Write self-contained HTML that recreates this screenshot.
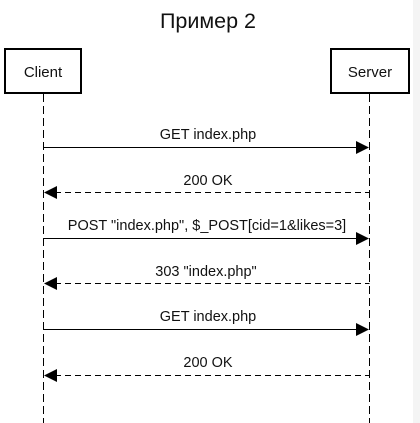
<!DOCTYPE html>
<html><head><meta charset="utf-8"><style>
html,body{margin:0;padding:0;background:#fff;}
svg{display:block;font-family:"Liberation Sans",Arial,sans-serif;}
</style></head><body>
<svg width="420" height="423" viewBox="0 0 420 423" xmlns="http://www.w3.org/2000/svg">
<rect x="0" y="0" width="420" height="423" fill="#fff"/>
<rect x="413" y="0" width="7" height="423" fill="#f4f4f4"/>
<text x="208" y="28" font-size="21.5" text-anchor="middle" fill="#111">Пример 2</text>
<rect x="5" y="49" width="76" height="44" fill="#fff" stroke="#000" stroke-width="2"/>
<text x="43" y="77" font-size="15" text-anchor="middle" fill="#111">Client</text>
<rect x="331" y="49" width="78" height="44" fill="#fff" stroke="#000" stroke-width="2"/>
<text x="370" y="77" font-size="15" text-anchor="middle" fill="#111">Server</text>
<g stroke="#000" stroke-width="1" stroke-dasharray="8,4">
<line x1="43.5" y1="94" x2="43.5" y2="423"/>
<line x1="369.5" y1="94" x2="369.5" y2="423"/>
</g>
<g font-size="14.5" text-anchor="middle" fill="#111">
<text x="208" y="139">GET index.php</text>
<text x="208" y="185">200 OK</text>
<text x="207" y="230">POST "index.php", $_POST[cid=1&amp;likes=3]</text>
<text x="206" y="276">303 "index.php"</text>
<text x="208" y="321">GET index.php</text>
<text x="208" y="367">200 OK</text>
</g>
<g stroke="#000" stroke-width="1" fill="none">
<line x1="43.5" y1="147.5" x2="358" y2="147.5"/>
<line x1="55" y1="192.5" x2="369.5" y2="192.5" stroke-dasharray="6,4"/>
<line x1="43.5" y1="238.5" x2="358" y2="238.5"/>
<line x1="55" y1="283.5" x2="369.5" y2="283.5" stroke-dasharray="6,4"/>
<line x1="43.5" y1="329.5" x2="358" y2="329.5"/>
<line x1="55" y1="375.5" x2="369.5" y2="375.5" stroke-dasharray="6,4"/>
</g>
<g fill="#000">
<polygon points="356,141 369,147.5 356,154"/>
<polygon points="57,186 44,192.5 57,199"/>
<polygon points="356,232 369,238.5 356,245"/>
<polygon points="57,277 44,283.5 57,290"/>
<polygon points="356,323 369,329.5 356,336"/>
<polygon points="57,369 44,375.5 57,382"/>
</g>
</svg>
</body></html>
